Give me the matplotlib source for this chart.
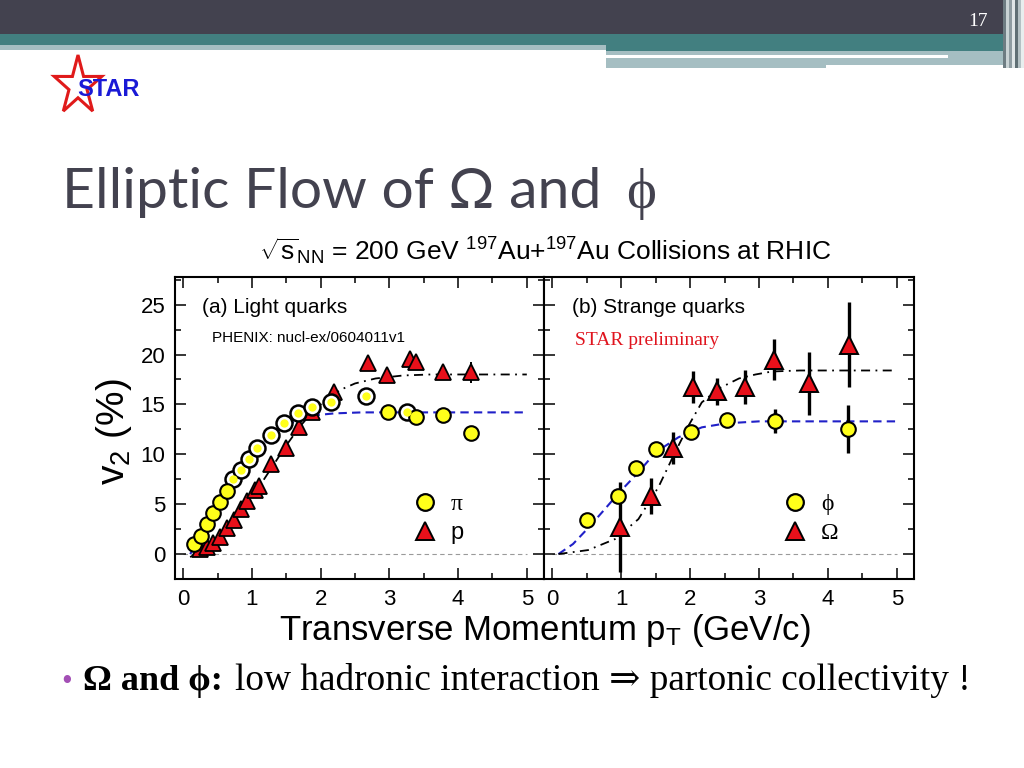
"""
Slide recreation: elliptic flow v2 vs pT for light (pi, p) and strange (phi, Omega) hadrons.
"""
import matplotlib.pyplot as plt
from matplotlib.patches import Rectangle, Polygon
from matplotlib.lines import Line2D
import numpy as np

plt.rcParams.update({
    "font.family": ["Liberation Sans", "DejaVu Sans"],
    "mathtext.fontset": "custom",
    "mathtext.rm": "Liberation Sans",
    "mathtext.it": "Liberation Sans:italic",
    "mathtext.bf": "Liberation Sans:bold",
})

W, H = 1024, 768
SERIF = ["Liberation Serif", "DejaVu Serif"]
YEL, RED = "#ffff1a", "#e8101a"

# ----------------------------------------------------------------------------
# (a) light quarks, PHENIX
# ----------------------------------------------------------------------------
pi_x = [0.15, 0.26, 0.35, 0.44, 0.54, 0.64, 2.98, 3.38, 3.78, 4.19]
pi_y = [1.0, 1.8, 3.0, 4.1, 5.2, 6.3, 14.2, 13.7, 13.9, 12.1]
pi_err = [0.1, 0.1, 0.1, 0.1, 0.1, 0.1, 0.3, 0.3, 0.4, 0.7]
pi_ring_x = [0.73, 0.84, 0.95, 1.08, 1.27, 1.47, 1.67, 1.88, 2.15, 2.66, 3.25]
pi_ring_y = [7.5, 8.4, 9.5, 10.6, 11.9, 13.1, 14.1, 14.7, 15.2, 15.8, 14.2]
p_x = [0.25, 0.35, 0.44, 0.54, 0.64, 0.74, 0.84, 0.93, 1.05, 1.10, 1.28, 1.50,
       1.69, 1.88, 2.20, 2.69, 2.97, 3.30, 3.38, 3.78, 4.19]
p_y = [0.5, 0.7, 1.1, 1.7, 2.6, 3.4, 4.5, 5.3, 6.4, 6.8, 9.0, 10.6,
       12.7, 14.2, 16.2, 19.1, 17.9, 19.6, 19.3, 18.2, 18.2]
p_err = [0.1] * 17 + [0.4, 0.4, 0.5, 1.1]

# fit curves
fit_pi_x = [0.10, 0.30, 0.50, 0.70, 0.90, 1.10, 1.30, 1.50, 1.70, 1.90, 2.20, 2.60, 3.00, 4.00, 5.00]
fit_pi_y = [0.0, 2.0, 4.6, 7.0, 9.0, 10.7, 12.0, 12.9, 13.5, 13.9, 14.1, 14.2, 14.2, 14.2, 14.2]
fit_p_x = [0.10, 0.30, 0.50, 0.70, 0.90, 1.10, 1.30, 1.50, 1.70, 1.90, 2.10, 2.30,
           2.50, 2.80, 3.20, 3.60, 5.00]
fit_p_y = [-0.3, 0.4, 1.5, 3.0, 4.8, 6.7, 8.8, 10.9, 12.8, 14.4, 15.6, 16.5,
           17.1, 17.6, 17.9, 18.0, 18.0]

# ----------------------------------------------------------------------------
# (b) strange quarks, STAR preliminary
# ----------------------------------------------------------------------------
phi_x = [0.51, 0.95, 1.21, 1.50, 2.01, 2.53, 3.23, 4.29]
phi_y = [3.4, 5.8, 8.6, 10.5, 12.2, 13.4, 13.3, 12.5]
phi_err = [0.3, 0.6, 0.4, 0.4, 0.4, 0.5, 1.2, 2.4]
om_x = [0.98, 1.43, 1.75, 2.04, 2.39, 2.79, 3.22, 3.73, 4.31]
om_y = [2.7, 5.8, 10.6, 16.7, 16.3, 16.7, 19.5, 17.1, 21.0]
om_err = [4.5, 1.8, 1.6, 1.6, 1.35, 1.7, 2.1, 3.2, 4.3]

fit_phi_x = [0.09, 0.30, 0.52, 0.75, 0.95, 1.25, 1.50, 1.83, 2.17, 2.52, 3.00, 5.00]
fit_phi_y = [0.0, 1.0, 2.6, 4.4, 6.0, 8.2, 10.2, 11.7, 12.7, 13.1, 13.3, 13.3]
fit_om_x = [0.09, 0.52, 0.91, 1.25, 1.54, 1.79, 1.98, 2.17, 2.42, 2.71, 2.95, 3.19, 3.60, 5.00]
fit_om_y = [0.0, 0.4, 1.5, 3.5, 6.7, 10.3, 12.9, 15.2, 16.6, 17.6, 18.0, 18.3, 18.4, 18.4]

xticks = [0, 1, 2, 3, 4, 5]
yticks = [0, 5, 10, 15, 20, 25]


def fx(x):
    return x / W


def fy(y):
    return 1 - y / H


fig = plt.figure(figsize=(10.24, 7.68), dpi=100)

# slide decoration in pixel coordinates
bg = fig.add_axes([0, 0, 1, 1])
bg.set_xlim(0, W)
bg.set_ylim(H, 0)
bg.axis("off")
dark, teal, grey = "#43424f", "#427f80", "#a5bec2"
for (x0, y0, w, h, c) in [
    (0, 0, 1024, 34, dark),
    (0, 34, 1005, 11, teal),
    (606, 45, 399, 6, teal),
    (0, 45, 606, 5, grey),
    (606, 51, 399, 4, grey),
    (606, 55, 342, 3, "white"),
    (948, 55, 57, 10, grey),
    (606, 58, 220, 10, grey),
    (826, 58, 122, 7, grey),
]:
    bg.add_patch(Rectangle((x0, y0), w, h, color=c, lw=0))
for i, c in enumerate(["#6d7c82", "#c9d3d5", "#8e9ca1", "#dfe6e7", "#5f6f74", "#b4c1c4", "#e8eeee"]):
    bg.add_patch(Rectangle((1003 + i * 3, 0), 3, 68, color=c, lw=0))
fig.text(fx(978), fy(22), "17", color="white", fontsize=14, family=SERIF,
         ha="center", va="center")

# STAR logo
ang = np.pi / 2 + np.arange(10) * np.pi / 5
rad = np.where(np.arange(10) % 2 == 0, 1.0, 0.38)
star = np.column_stack([78 + 25 * rad * np.cos(ang), 86 - 31 * rad * np.sin(ang)])
bg.add_patch(Polygon(star, closed=True, fc="white", ec="#e01a1a", lw=2.2))
fig.text(fx(108), fy(89), "STAR", color="#1a1ad6", fontsize=17, weight="bold",
         family=["Liberation Sans Narrow", "Liberation Sans"], ha="center", va="center")

# slide title
fig.text(fx(62), fy(208), "Elliptic Flow of Ω and ", family=["Lato", "DejaVu Sans"],
         fontsize=41, color=dark, va="baseline")
fig.text(fx(626), fy(208), "ϕ", family=SERIF, fontsize=41, color=dark, va="baseline")

fig.text(fx(545), fy(261),
         r"$\sqrt{\mathrm{s}}_{\mathrm{NN}}$ = 200 GeV $^{197}$Au+$^{197}$Au Collisions at RHIC",
         fontsize=19, ha="center", va="baseline")

axL = fig.add_axes([fx(175), fy(579), (544 - 175) / W, (579 - 277) / H])
axR = fig.add_axes([fx(544), fy(579), (914 - 544) / W, (579 - 277) / H])

for ax in (axL, axR):
    ax.set_xlim(-0.12, 5.25)
    ax.set_ylim(-2.07, 27.77)
    ax.set_xticks(xticks)
    ax.set_xticks(np.arange(0, 5.01, 0.5), minor=True)
    ax.set_yticks(yticks)
    ax.set_yticks(np.arange(-2.5, 27.6, 2.5), minor=True)
    ax.tick_params(which="both", direction="in", top=True, right=True, width=1.1,
                   labelsize=16, pad=7)
    ax.tick_params(which="major", length=8)
    ax.tick_params(which="minor", length=4)
    for s in ax.spines.values():
        s.set_linewidth(1.5)
    ax.hlines(0, 0, 5, color="#9a9a9a", lw=0.8, linestyles=(0, (4, 3)), zorder=1)
axR.tick_params(labelleft=False)

# (a)
axL.plot(fit_pi_x, fit_pi_y, color="#2020c8", lw=1.5, ls=(0, (4, 2.5)), zorder=2)
axL.plot(fit_p_x, fit_p_y, color="black", lw=1.3, ls=(0, (5, 3, 1, 3)), zorder=2)
axL.errorbar(pi_x, pi_y, yerr=pi_err, fmt="none", ecolor="black", elinewidth=1.4, zorder=3)
axL.errorbar(p_x, p_y, yerr=p_err, fmt="none", ecolor="black", elinewidth=1.4, zorder=3)
axL.plot(p_x, p_y, ls="none", marker="^", ms=11, mfc=RED, mec="black", mew=1.3, zorder=4)
axL.plot(pi_ring_x, pi_ring_y, ls="none", marker="o", ms=11.5, mfc="white", mec="black",
         mew=1.8, zorder=5)
axL.plot(pi_ring_x, pi_ring_y, ls="none", marker="o", ms=6, mfc=YEL, mec="none", zorder=6)
axL.plot(pi_x, pi_y, ls="none", marker="o", ms=10.5, mfc=YEL, mec="black", mew=1.5, zorder=5)

# (b)
axR.plot(fit_phi_x, fit_phi_y, color="#2020c8", lw=1.5, ls=(0, (4, 2.5)), zorder=2)
axR.plot(fit_om_x, fit_om_y, color="black", lw=1.3, ls=(0, (5, 3, 1, 3)), zorder=2)
axR.errorbar(phi_x, phi_y, yerr=phi_err, fmt="none", ecolor="black", elinewidth=2.4, zorder=3)
axR.errorbar(om_x, om_y, yerr=om_err, fmt="none", ecolor="black", elinewidth=2.4, zorder=3)
axR.plot(phi_x, phi_y, ls="none", marker="o", ms=10.5, mfc=YEL, mec="black", mew=1.5, zorder=5)
axR.plot(om_x, om_y, ls="none", marker="^", ms=13, mfc=RED, mec="black", mew=1.4, zorder=4)

# legends
h_circ = Line2D([], [], ls="none", marker="o", ms=12, mfc=YEL, mec="black", mew=1.6)
h_tri = Line2D([], [], ls="none", marker="^", ms=13, mfc=RED, mec="black", mew=1.4)
for ax, labels, x0 in [(axL, ["π", "p"], 413), (axR, ["ϕ", "Ω"], 783)]:
    leg = ax.legend([h_circ, h_tri], labels, loc="center left",
                    bbox_to_anchor=(fx(x0), fy(519)), bbox_transform=fig.transFigure,
                    frameon=False, fontsize=17, handlelength=1.0, handletextpad=0.6,
                    labelspacing=0.3, borderpad=0, borderaxespad=0)
    for t, lab in zip(leg.get_texts(), labels):
        if lab != "p":
            t.set_family(SERIF)

fig.text(fx(202), fy(313), "(a) Light quarks", fontsize=15)
fig.text(fx(212), fy(342), "PHENIX: nucl-ex/0604011v1", fontsize=11)
fig.text(fx(572), fy(313), "(b) Strange quarks", fontsize=15)
fig.text(fx(575), fy(345), "STAR preliminary", fontsize=14, color="#e0141e", family=SERIF)

fig.text(fx(545), fy(640), r"Transverse Momentum p$_{\mathrm{T}}$ (GeV/c)", fontsize=25,
         ha="center", va="baseline")
fig.text(fx(114), fy(432), r"v$_2$ (%)", fontsize=28, rotation=90, ha="center", va="center")

# bullet line
fig.text(fx(61), fy(690), "•", color="#a34fb5", fontsize=22, va="baseline", family=SERIF)
fig.text(fx(83), fy(690), "Ω and ϕ:", fontsize=26, weight="bold", va="baseline", family=SERIF)
fig.text(fx(235), fy(690), "low hadronic interaction ⇒ partonic collectivity !", fontsize=26.8,
         va="baseline", family=SERIF)

fig.savefig("out.png", dpi=100)
